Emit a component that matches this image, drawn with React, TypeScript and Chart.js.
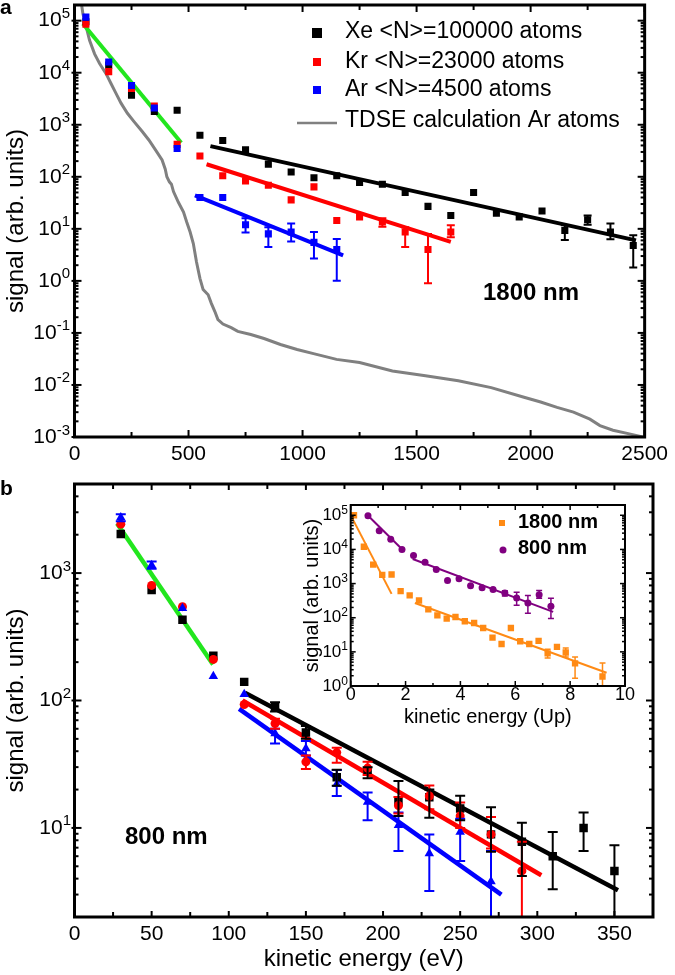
import React, { useEffect, useRef } from 'react';
import { Chart, registerables } from 'chart.js';

Chart.register(...registerables);

const FONT = "'Liberation Sans', Arial, Helvetica, sans-serif";

// ================= Panel a : 1800 nm =================
const aEnergy = [50, 150, 250, 350, 450, 550, 650, 750, 850, 950, 1050, 1150, 1250, 1350, 1450, 1550, 1650, 1750, 1850, 1950, 2050, 2150, 2250, 2350, 2450];
const aXe = [95000, 14000, 3700, 1800, 1900, 630, 500, 330, 175, 124, 96, 105, 78, 72, 50, 27, 18, 50, 20, 17, 22, 9.3, 15, 8.7, 4.8];
const aKr = [85000, 10500, 5000, 2300, 420, 250, 105, 83, 69, 36, 64, 14.5, 17, 13.5, 8.7, 4, 8.7];
const aAr = [117000, 16000, 5700, 2100, 350, 40, 40, 12, 8, 8.7, 5.5, 4];

const aXeErrE = [2150, 2250, 2350, 2450];
const aXeErrLo = [6.1, 12, 6.3, 1.8];
const aXeErrHi = [11.7, 18, 12.6, 7.5];
const aKrErrE = [1350, 1450, 1550, 1650];
const aKrErrLo = [11, 4.5, 0.9, 6.9];
const aKrErrHi = [16, 10.7, 8, 11.7];
const aArErrE = [750, 850, 950, 1050, 1150];
const aArErrLo = [8.5, 4.5, 5.7, 2.7, 1.0];
const aArErrHi = [16, 10.7, 12.6, 8.7, 6.4];

const aTdseE = [28, 37, 52, 66, 88, 110, 139, 160, 182, 204, 232, 261, 297, 326, 355, 384, 398, 405, 416, 425, 434, 456, 478, 492, 507, 521, 535, 550, 564, 586, 600, 615, 629, 651, 687, 716, 773, 831, 903, 976, 1048, 1149, 1250, 1394, 1539, 1683, 1827, 1971, 2044, 2116, 2188, 2260, 2304, 2361, 2433, 2491];
const aTdse = [250000, 135000, 74000, 42000, 23000, 15000, 9500, 6200, 4000, 2600, 1660, 1150, 740, 510, 330, 210, 140, 100, 80, 72, 52, 32, 21, 13.5, 8.7, 5.2, 2.3, 1.12, 0.68, 0.54, 0.37, 0.26, 0.18, 0.148, 0.126, 0.107, 0.093, 0.078, 0.06, 0.048, 0.04, 0.031, 0.027, 0.0186, 0.0151, 0.012, 0.0089, 0.0058, 0.0047, 0.0037, 0.003, 0.0022, 0.00166, 0.00135, 0.00115, 0.001];

const aFitGreenE = [37, 468];
const aFitGreen = [87000, 450];
const aFitXeE = [596, 2462];
const aFitXe = [389, 6.0];
const aFitKrE = [579, 1650];
const aFitKr = [174, 5.6];
const aFitArE = [528, 1178];
const aFitAr = [44, 3.1];

const aXTicks = [0, 500, 1000, 1500, 2000, 2500];
const aXMinor = [250, 750, 1250, 1750, 2250];
const aYExps = [-3, -2, -1, 0, 1, 2, 3, 4, 5];

const aLegend = ['Xe <N>=100000 atoms', 'Kr <N>=23000 atoms', 'Ar <N>=4500 atoms', 'TDSE calculation Ar atoms'];

// ================= Panel b : 800 nm =================
const bEnergy = [30, 50, 70, 90, 110, 130, 150, 170, 190, 210, 230, 250, 270, 290, 310, 330, 350];
const bXe = [2030, 735, 430, 225, 140, 89, 56, 25, 28, 16, 17.4, 14.2, 8.9, 7.8, 6.0, 10, 4.6];
const bKr = [2420, 800, 545, 210, 93, 66, 33, 39, 29.5, 15, 17.8, 12.4, 8.9, 4.6];
const bAr = [2730, 1150, 530, 155, 112, 55, 42, 22, 16, 10.5, 6.3, 9.3, 3.8];

const bXeErrE = [130, 150, 170, 190, 210, 230, 250, 270, 290, 310, 330, 350];
const bXeErrLo = [82, 50, 21.4, 24.5, 12.4, 12, 11.5, 6.5, 4.2, 3.3, 6.6, 1.5];
const bXeErrHi = [97, 63, 28.6, 30, 23.3, 20, 17.9, 14.5, 11, 9.3, 13.2, 7.3];
const bKrErrE = [130, 150, 170, 190, 210, 230, 250, 270, 290];
const bKrErrLo = [60, 29, 32.5, 26, 13, 14, 10, 6.9, 1.5];
const bKrErrHi = [72, 37, 42.5, 33, 17.5, 21.5, 15.8, 12.2, 7.8];
const bArErrE = [30, 50, 130, 150, 170, 190, 210, 230, 250, 270];
const bArErrLo = [2550, 1080, 46, 37, 17.8, 11.5, 6.6, 3.2, 5.5, 1.5];
const bArErrHi = [2900, 1230, 60, 48, 28.5, 19, 13.2, 8.9, 11.8, 6.6];

const bFitGreenE = [27.6, 89.8];
const bFitGreen = [2450, 192];
const bFitXeE = [110.4, 352.3];
const bFitXe = [115, 3.24];
const bFitKrE = [108.9, 302.6];
const bFitKr = [100, 4.25];
const bFitArE = [106.7, 276.7];
const bFitAr = [86, 3.0];

const bXTicks = [0, 50, 100, 150, 200, 250, 300, 350];
const bXMinor = [25, 75, 125, 175, 225, 275, 325];
const bYExps = [1, 2, 3];

// ================= Inset : energy in Up =================
const i1800Up = [0.12, 0.48, 0.82, 1.15, 1.49, 1.82, 2.15, 2.49, 2.83, 3.16, 3.5, 3.82, 4.16, 4.5, 4.83, 5.17, 5.5, 5.84, 6.18, 6.51, 6.85, 7.18, 7.52, 7.84, 8.18, 9.18];
const i1800 = [100000, 12000, 3600, 1800, 1850, 600, 450, 320, 175, 117, 94, 105, 79, 70, 50, 26, 17, 50, 20.5, 17, 21, 9, 14, 9.6, 4.6, 1.9];
const i800Up = [0.63, 1.04, 1.46, 1.87, 2.29, 2.71, 3.12, 3.53, 3.95, 4.37, 4.79, 5.19, 5.62, 6.05, 6.46, 6.87, 7.3];
const i800 = [97000, 35000, 20000, 10000, 6600, 4200, 2600, 1230, 1380, 870, 760, 670, 525, 375, 270, 470, 215];

const i1800ErrE = [7.18, 7.84, 8.18, 9.18];
const i1800ErrLo = [6.6, 7.1, 1.7, 0.76];
const i1800ErrHi = [12, 12.9, 7.1, 4.7];
const i800ErrE = [5.62, 6.05, 6.46, 6.87, 7.3];
const i800ErrLo = [430, 230, 135, 370, 95];
const i800ErrHi = [620, 560, 450, 630, 370];

const iFit1800aE = [0.04, 1.49];
const iFit1800a = [87000, 500];
const iFit1800bE = [2.34, 9.33];
const iFit1800b = [269, 2.45];
const iFit800aE = [0.58, 1.92];
const iFit800a = [107000, 9300];
const iFit800bE = [2.26, 7.38];
const iFit800b = [5250, 148];

const iXTicks = [0, 2, 4, 6, 8, 10];
const iXMinor = [1, 3, 5, 7, 9];
const iYExps = [0, 1, 2, 3, 4, 5];

// ================= colours =================
const BLACK = '#000000';
const RED = '#ff0000';
const BLUE = '#0000ff';
const GREEN = '#22e61e';
const GRAY = '#808080';
const ORANGE = '#ff8a14';
const PURPLE = '#800080';

const pts = (xs: number[], ys: number[]) => ys.map((y, i) => ({ x: xs[i], y }));

type ErrSet = { x: number[]; lo: number[]; hi: number[]; color: string; cap: number; lw: number };
type Txt = { text: string; x: number; y: number; font: string; align?: CanvasTextAlign; baseline?: CanvasTextBaseline };
type Leg = { kind: 'rect' | 'circle' | 'line'; color: string; x: number; y: number; size: number; text: string; tx: number; ty: number; font: string };

interface OverlayCfg {
  bg?: string;
  frameLw: number;
  tickLw: number;
  xMajor: number[];
  xMinor: number[];
  xMajLen: number;
  xMinLen: number;
  yExpMin: number;
  yExpMax: number;
  yMajLen: number;
  yMinLen: number;
  yOut: number;
  yLabelExps: number[];
  yLabelFont: number;
  yExpFont: number;
  yLabelRight: number;
  yExpRaise: number;
  errors: ErrSet[];
  texts: Txt[];
  legend: Leg[];
}

function makeOverlay(cfg: OverlayCfg) {
  return {
    id: 'overlay',
    beforeDraw(chart: any) {
      if (!cfg.bg) return;
      const { ctx, chartArea: c } = chart;
      ctx.save();
      ctx.fillStyle = cfg.bg;
      ctx.fillRect(c.left, c.top, c.right - c.left, c.bottom - c.top);
      ctx.restore();
    },
    afterDatasetsDraw(chart: any) {
      const { ctx, chartArea: c, scales } = chart;
      const x = scales.x;
      const y = scales.y;
      ctx.save();
      ctx.beginPath();
      ctx.rect(c.left, c.top, c.right - c.left, c.bottom - c.top);
      ctx.clip();
      for (const e of cfg.errors) {
        ctx.strokeStyle = e.color;
        ctx.lineWidth = e.lw;
        e.x.forEach((xv, i) => {
          const px = x.getPixelForValue(xv);
          const p1 = y.getPixelForValue(e.lo[i]);
          const p2 = y.getPixelForValue(e.hi[i]);
          ctx.beginPath();
          ctx.moveTo(px, p1);
          ctx.lineTo(px, p2);
          ctx.moveTo(px - e.cap / 2, p1);
          ctx.lineTo(px + e.cap / 2, p1);
          ctx.moveTo(px - e.cap / 2, p2);
          ctx.lineTo(px + e.cap / 2, p2);
          ctx.stroke();
        });
      }
      ctx.restore();
    },
    afterDraw(chart: any) {
      const { ctx, chartArea: c, scales } = chart;
      const x = scales.x;
      const y = scales.y;
      ctx.save();
      ctx.strokeStyle = '#000';
      ctx.lineWidth = cfg.tickLw;
      const seg = (x1: number, y1: number, x2: number, y2: number) => {
        ctx.beginPath();
        ctx.moveTo(x1, y1);
        ctx.lineTo(x2, y2);
        ctx.stroke();
      };
      const xt = (vals: number[], len: number) =>
        vals.forEach((v) => {
          const px = x.getPixelForValue(v);
          seg(px, c.bottom, px, c.bottom - len);
          seg(px, c.top, px, c.top + len);
        });
      xt(cfg.xMajor, cfg.xMajLen);
      xt(cfg.xMinor, cfg.xMinLen);
      for (let e = cfg.yExpMin; e <= cfg.yExpMax; e++) {
        for (let k = 1; k <= 9; k++) {
          const v = k * Math.pow(10, e);
          if (v < y.min * 0.999 || v > y.max * 1.001) continue;
          const py = y.getPixelForValue(v);
          const len = k === 1 ? cfg.yMajLen : cfg.yMinLen;
          const out = k === 1 ? cfg.yOut : 0;
          seg(c.left - out, py, c.left + len, py);
          seg(c.right, py, c.right - len, py);
        }
      }
      ctx.lineWidth = cfg.frameLw;
      ctx.strokeRect(c.left, c.top, c.right - c.left, c.bottom - c.top);

      ctx.fillStyle = '#000';
      for (const e of cfg.yLabelExps) {
        const py = y.getPixelForValue(Math.pow(10, e));
        const expStr = String(e);
        ctx.font = `${cfg.yExpFont}px ${FONT}`;
        const ew = ctx.measureText(expStr).width;
        ctx.textAlign = 'left';
        ctx.textBaseline = 'alphabetic';
        ctx.fillText(expStr, cfg.yLabelRight - ew, py - cfg.yExpRaise);
        ctx.font = `${cfg.yLabelFont}px ${FONT}`;
        ctx.textAlign = 'right';
        ctx.textBaseline = 'middle';
        ctx.fillText('10', cfg.yLabelRight - ew, py);
      }

      for (const t of cfg.texts) {
        ctx.font = t.font;
        ctx.textAlign = t.align || 'left';
        ctx.textBaseline = t.baseline || 'middle';
        ctx.fillStyle = '#000';
        ctx.fillText(t.text, t.x, t.y);
      }

      for (const l of cfg.legend) {
        ctx.fillStyle = l.color;
        ctx.strokeStyle = l.color;
        if (l.kind === 'rect') {
          ctx.fillRect(l.x - l.size / 2, l.y - l.size / 2, l.size, l.size);
        } else if (l.kind === 'circle') {
          ctx.beginPath();
          ctx.arc(l.x, l.y, l.size, 0, Math.PI * 2);
          ctx.fill();
        } else {
          ctx.lineWidth = 2.5;
          seg(l.x - l.size / 2, l.y, l.x + l.size / 2, l.y);
        }
        ctx.fillStyle = '#000';
        ctx.font = l.font;
        ctx.textAlign = 'left';
        ctx.textBaseline = 'middle';
        ctx.fillText(l.text, l.tx, l.ty);
      }
      ctx.restore();
    },
  };
}

interface PanelCfg {
  datasets: any[];
  xMin: number;
  xMax: number;
  yMin: number;
  yMax: number;
  xTicks: number[];
  xTickFont: number;
  xTickPad: number;
  yWidth: number;
  xHeight: number;
  padding: { top: number; right: number; left: number; bottom: number };
  xTitle?: { text: string; size: number; pad: number };
  yTitle?: { text: string; size: number; pad: number };
}

function buildConfig(p: PanelCfg, overlay: OverlayCfg): any {
  return {
    type: 'scatter',
    data: { datasets: p.datasets },
    plugins: [makeOverlay(overlay)],
    options: {
      animation: false,
      responsive: false,
      devicePixelRatio: 1,
      events: [],
      layout: { padding: p.padding },
      plugins: { legend: { display: false }, tooltip: { enabled: false } },
      scales: {
        x: {
          type: 'linear',
          min: p.xMin,
          max: p.xMax,
          grid: { display: false, drawTicks: false },
          border: { display: false },
          afterBuildTicks: (s: any) => {
            s.ticks = p.xTicks.map((v) => ({ value: v }));
          },
          afterFit: (s: any) => {
            s.height = p.xHeight;
          },
          ticks: {
            autoSkip: false,
            maxRotation: 0,
            padding: p.xTickPad,
            color: '#000',
            font: { family: FONT, size: p.xTickFont, lineHeight: 1 },
            callback: (v: any) => String(v),
          },
          title: p.xTitle
            ? {
                display: true,
                text: p.xTitle.text,
                color: '#000',
                font: { family: FONT, size: p.xTitle.size },
                padding: { top: 0, bottom: p.xTitle.pad },
              }
            : { display: false },
        },
        y: {
          type: 'logarithmic',
          min: p.yMin,
          max: p.yMax,
          grid: { display: false, drawTicks: false },
          border: { display: false },
          ticks: { display: false },
          afterFit: (s: any) => {
            s.width = p.yWidth;
          },
          title: p.yTitle
            ? {
                display: true,
                text: p.yTitle.text,
                color: '#000',
                font: { family: FONT, size: p.yTitle.size },
                padding: { top: p.yTitle.pad, bottom: 0 },
              }
            : { display: false },
        },
      },
    },
  };
}

const scatterSet = (xs: number[], ys: number[], color: string, style: string, r: number, order = 1) => ({
  data: pts(xs, ys),
  showLine: false,
  pointStyle: style,
  pointRadius: r,
  pointBackgroundColor: color,
  pointBorderColor: color,
  pointBorderWidth: 0,
  order,
});

const lineSet = (xs: number[], ys: number[], color: string, w: number, order = 5) => ({
  data: pts(xs, ys),
  showLine: true,
  borderColor: color,
  borderWidth: w,
  pointRadius: 0,
  fill: false,
  tension: 0,
  order,
});

export default function App() {
  const refA = useRef<HTMLCanvasElement>(null);
  const refB = useRef<HTMLCanvasElement>(null);
  const refI = useRef<HTMLCanvasElement>(null);

  useEffect(() => {
    document.body.style.margin = '0';
    const charts: Chart[] = [];

    // ---------- Panel a ----------
    const cfgA = buildConfig(
      {
        datasets: [
          scatterSet(aEnergy, aAr, BLUE, 'rect', 5, 1),
          scatterSet(aEnergy, aKr, RED, 'rect', 5, 2),
          scatterSet(aEnergy, aXe, BLACK, 'rect', 5, 3),
          lineSet(aFitGreenE, aFitGreen, GREEN, 4, 5),
          lineSet(aFitXeE, aFitXe, BLACK, 4, 5),
          lineSet(aFitKrE, aFitKr, RED, 4, 5),
          lineSet(aFitArE, aFitAr, BLUE, 4, 5),
          lineSet(aTdseE, aTdse, GRAY, 3, 10),
        ],
        xMin: 0,
        xMax: 2500,
        yMin: 1e-3,
        yMax: 2e5,
        xTicks: aXTicks,
        xTickFont: 21,
        xTickPad: 7,
        yWidth: 74.5,
        xHeight: 43,
        padding: { top: 3, right: 23, left: 0, bottom: 0 },
        yTitle: { text: 'signal (arb. units)', size: 24, pad: 2 },
      },
      {
        frameLw: 3,
        tickLw: 2,
        xMajor: aXTicks,
        xMinor: aXMinor,
        xMajLen: 7,
        xMinLen: 5,
        yExpMin: -3,
        yExpMax: 5,
        yMajLen: 7,
        yMinLen: 4,
        yOut: 3,
        yLabelExps: aYExps,
        yLabelFont: 21,
        yExpFont: 15,
        yLabelRight: 70,
        yExpRaise: 2.5,
        errors: [
          { x: aArErrE, lo: aArErrLo, hi: aArErrHi, color: BLUE, cap: 8, lw: 2 },
          { x: aKrErrE, lo: aKrErrLo, hi: aKrErrHi, color: RED, cap: 8, lw: 2 },
          { x: aXeErrE, lo: aXeErrLo, hi: aXeErrHi, color: BLACK, cap: 8, lw: 2 },
        ],
        texts: [
          { text: 'a', x: 0, y: 14, font: `bold 21px ${FONT}`, baseline: 'alphabetic' },
          { text: '1800 nm', x: 483, y: 293, font: `bold 24px ${FONT}` },
        ],
        legend: [
          { kind: 'rect', color: BLACK, x: 317, y: 33, size: 10, text: aLegend[0], tx: 345, ty: 32, font: `23px ${FONT}` },
          { kind: 'rect', color: RED, x: 317, y: 62, size: 8, text: aLegend[1], tx: 345, ty: 62, font: `23px ${FONT}` },
          { kind: 'rect', color: BLUE, x: 317, y: 90, size: 8, text: aLegend[2], tx: 345, ty: 90, font: `23px ${FONT}` },
          { kind: 'line', color: GRAY, x: 317, y: 123, size: 40, text: aLegend[3], tx: 345, ty: 121, font: `23px ${FONT}` },
        ],
      }
    );

    // ---------- Panel b ----------
    const cfgB = buildConfig(
      {
        datasets: [
          scatterSet(bEnergy, bAr, BLUE, 'triangle', 5.5, 1),
          scatterSet(bEnergy, bKr, RED, 'circle', 4.5, 2),
          scatterSet(bEnergy, bXe, BLACK, 'rect', 6, 3),
          lineSet(bFitGreenE, bFitGreen, GREEN, 4.5, 5),
          lineSet(bFitArE, bFitAr, BLUE, 4.5, 6),
          lineSet(bFitKrE, bFitKr, RED, 4.5, 6),
          lineSet(bFitXeE, bFitXe, BLACK, 4.5, 6),
        ],
        xMin: 0,
        xMax: 375,
        yMin: 2,
        yMax: 5000,
        xTicks: bXTicks,
        xTickFont: 21,
        xTickPad: 7,
        yWidth: 74.5,
        xHeight: 58,
        padding: { top: 3, right: 22, left: 0, bottom: 0 },
        xTitle: { text: 'kinetic energy (eV)', size: 24, pad: 1 },
        yTitle: { text: 'signal (arb. units)', size: 24, pad: 2 },
      },
      {
        frameLw: 3,
        tickLw: 2,
        xMajor: bXTicks,
        xMinor: bXMinor,
        xMajLen: 6,
        xMinLen: 5,
        yExpMin: 0,
        yExpMax: 3,
        yMajLen: 7,
        yMinLen: 4,
        yOut: 3,
        yLabelExps: bYExps,
        yLabelFont: 21,
        yExpFont: 15,
        yLabelRight: 71,
        yExpRaise: 2.5,
        errors: [
          { x: bArErrE, lo: bArErrLo, hi: bArErrHi, color: BLUE, cap: 10, lw: 2 },
          { x: bKrErrE, lo: bKrErrLo, hi: bKrErrHi, color: RED, cap: 10, lw: 2 },
          { x: bXeErrE, lo: bXeErrLo, hi: bXeErrHi, color: BLACK, cap: 10, lw: 2 },
        ],
        texts: [
          { text: 'b', x: 0, y: 17, font: `bold 21px ${FONT}`, baseline: 'alphabetic' },
          { text: '800 nm', x: 125, y: 359, font: `bold 24px ${FONT}` },
        ],
        legend: [],
      }
    );

    // ---------- Inset ----------
    const cfgI = buildConfig(
      {
        datasets: [
          scatterSet(i800Up, i800, PURPLE, 'circle', 3.5, 1),
          scatterSet(i1800Up, i1800, ORANGE, 'rect', 4.5, 2),
          lineSet(iFit1800aE, iFit1800a, ORANGE, 2, 5),
          lineSet(iFit1800bE, iFit1800b, ORANGE, 2, 5),
          lineSet(iFit800aE, iFit800a, PURPLE, 2, 5),
          lineSet(iFit800bE, iFit800b, PURPLE, 2, 5),
        ],
        xMin: 0,
        xMax: 10,
        yMin: 1,
        yMax: 2e5,
        xTicks: iXTicks,
        xTickFont: 18,
        xTickPad: 0,
        yWidth: 55.7,
        xHeight: 44,
        padding: { top: 10, right: 9.8, left: 0, bottom: 0 },
        xTitle: { text: 'kinetic energy (Up)', size: 20, pad: 1 },
        yTitle: { text: 'signal (arb. units)', size: 20, pad: 5 },
      },
      {
        bg: '#ffffff',
        frameLw: 2,
        tickLw: 1.5,
        xMajor: iXTicks,
        xMinor: iXMinor,
        xMajLen: 5,
        xMinLen: 3,
        yExpMin: 0,
        yExpMax: 5,
        yMajLen: 5,
        yMinLen: 3,
        yOut: 0,
        yLabelExps: iYExps,
        yLabelFont: 17,
        yExpFont: 12,
        yLabelRight: 53,
        yExpRaise: 1.5,
        errors: [
          { x: i1800ErrE, lo: i1800ErrLo, hi: i1800ErrHi, color: ORANGE, cap: 6, lw: 1.5 },
          { x: i800ErrE, lo: i800ErrLo, hi: i800ErrHi, color: PURPLE, cap: 6, lw: 1.5 },
        ],
        texts: [],
        legend: [
          { kind: 'rect', color: ORANGE, x: 207, y: 28, size: 6, text: '1800 nm', tx: 223, ty: 27, font: `bold 20px ${FONT}` },
          { kind: 'circle', color: PURPLE, x: 208, y: 55, size: 3.5, text: '800 nm', tx: 223, ty: 53.5, font: `bold 20px ${FONT}` },
        ],
      }
    );

    if (refA.current) charts.push(new Chart(refA.current, cfgA));
    if (refB.current) charts.push(new Chart(refB.current, cfgB));
    if (refI.current) charts.push(new Chart(refI.current, cfgI));

    return () => {
      charts.forEach((c) => c.destroy());
    };
  }, []);

  return (
    <div style={{ position: 'absolute', left: 0, top: 0, width: 675, height: 975, background: '#fff' }}>
      <canvas ref={refA} width={675} height={480} style={{ position: 'absolute', left: 0, top: 0 }} />
      <canvas ref={refB} width={675} height={497} style={{ position: 'absolute', left: 0, top: 478 }} />
      <canvas ref={refI} width={340} height={235} style={{ position: 'absolute', left: 295, top: 495 }} />
    </div>
  );
}
